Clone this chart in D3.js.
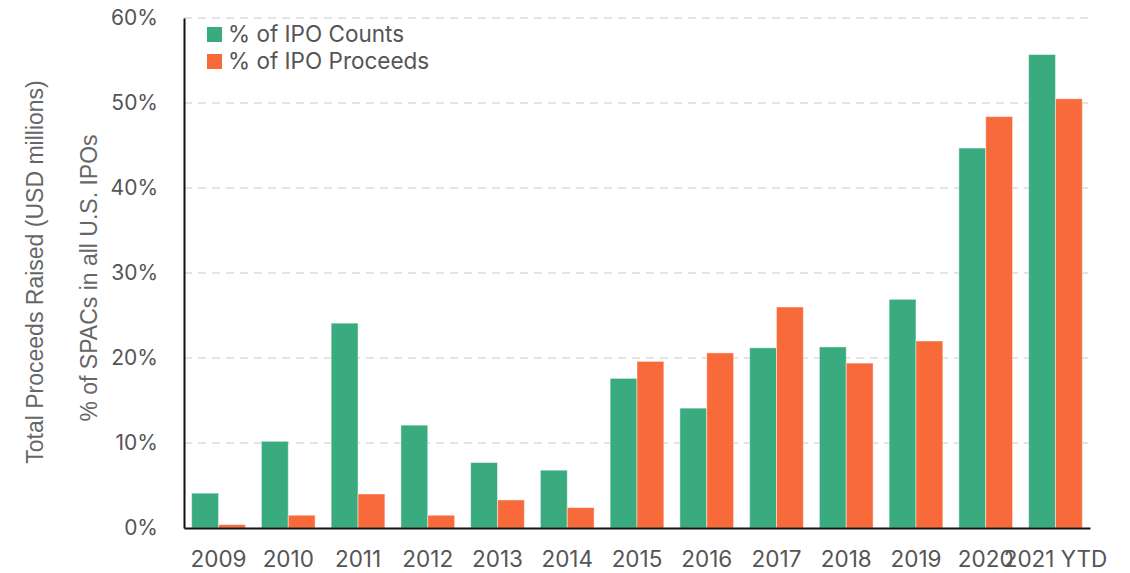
<!DOCTYPE html>
<html>
<head>
<meta charset="utf-8">
<script src="https://cdn.jsdelivr.net/npm/d3@7"></script>
<style>
  body { margin: 0; background: #fff; }
  svg { display: block; }
  .tick text { font-family: Inter, sans-serif; fill: #555; }
</style>
</head>
<body>
<div id="chart"></div>
<script>
var years = ['2009', '2010', '2011', '2012', '2013', '2014', '2015', '2016', '2017', '2018', '2019', '2020', '2021 YTD'];
var ipoCounts = [4.1, 10.2, 24.1, 12.1, 7.7, 6.8, 17.6, 14.1, 21.2, 21.3, 26.9, 44.7, 55.7];
var ipoProceeds = [0.4, 1.5, 4.0, 1.5, 3.3, 2.4, 19.6, 20.6, 26.0, 19.4, 22.0, 48.4, 50.5];
var yTicks = [0, 10, 20, 30, 40, 50, 60];
var seriesNames = ['% of IPO Counts', '% of IPO Proceeds'];
var colors = ['#3aab7e', '#f86a3a'];

var width = 1130, height = 573;
var margin = {left: 184, right: 40, top: 18, bottom: 45};

var svg = d3.select('#chart').append('svg')
    .attr('width', width)
    .attr('height', height);

var x = d3.scaleBand()
    .domain(years)
    .range([margin.left, width - margin.right])
    .paddingInner(0.23)
    .paddingOuter(0.11);

var x1 = d3.scaleBand()
    .domain([0, 1])
    .range([0, x.bandwidth()]);

var y = d3.scaleLinear()
    .domain([0, 60])
    .range([height - margin.bottom, margin.top]);

// gridlines
svg.append('g')
    .selectAll('line')
    .data(yTicks.slice(1))
    .enter().append('line')
    .attr('x1', margin.left)
    .attr('x2', width - margin.right)
    .attr('y1', function (d) { return y(d); })
    .attr('y2', function (d) { return y(d); })
    .attr('stroke', '#dcdcdc')
    .attr('stroke-width', 1.5)
    .attr('stroke-dasharray', '8,6');

// bars
var rows = years.map(function (yr, i) {
    return {year: yr, vals: [ipoCounts[i], ipoProceeds[i]]};
});

var groups = svg.append('g')
    .selectAll('g')
    .data(rows)
    .enter().append('g')
    .attr('transform', function (d) { return 'translate(' + x(d.year) + ',0)'; });

groups.selectAll('rect')
    .data(function (d) { return d.vals; })
    .enter().append('rect')
    .attr('x', function (d, i) { return x1(i); })
    .attr('y', function (d) { return y(d); })
    .attr('width', x1.bandwidth())
    .attr('height', function (d) { return y(0) - y(d); })
    .attr('fill', function (d, i) { return colors[i]; })
    .attr('stroke', 'rgba(255,255,255,0.45)')
    .attr('stroke-width', 1);

// axes
var yAxis = d3.axisLeft(y)
    .tickValues(yTicks)
    .tickFormat(function (d) { return d + '%'; })
    .tickSize(0)
    .tickPadding(26);

var yG = svg.append('g')
    .attr('transform', 'translate(' + margin.left + ',0)')
    .call(yAxis);
yG.select('.domain').attr('stroke', '#111').attr('stroke-width', 2);
yG.selectAll('.tick text').attr('font-size', 21);

var xAxis = d3.axisBottom(x).tickSize(0).tickPadding(23);
var xG = svg.append('g')
    .attr('transform', 'translate(0,' + y(0) + ')')
    .call(xAxis);
xG.select('.domain').attr('stroke', '#111').attr('stroke-width', 2);
xG.selectAll('.tick text').attr('font-size', 22.5);

// axis titles
svg.append('text')
    .attr('transform', 'translate(43,272) rotate(-90)')
    .attr('text-anchor', 'middle')
    .attr('font-family', 'Liberation Sans, Arial, sans-serif')
    .attr('font-size', 23)
    .attr('fill', '#666')
    .text('Total Proceeds Raised (USD millions)');

svg.append('text')
    .attr('transform', 'translate(97,278) rotate(-90)')
    .attr('text-anchor', 'middle')
    .attr('font-family', 'Liberation Sans, Arial, sans-serif')
    .attr('font-size', 23)
    .attr('fill', '#666')
    .text('% of SPACs in all U.S. IPOs');

// legend
var legend = svg.append('g')
    .selectAll('g')
    .data(seriesNames)
    .enter().append('g')
    .attr('transform', function (d, i) { return 'translate(207,' + (27 + i * 27) + ')'; });

legend.append('rect')
    .attr('width', 15)
    .attr('height', 15)
    .attr('fill', function (d, i) { return colors[i]; });

legend.append('text')
    .attr('x', 21)
    .attr('y', 15)
    .attr('font-family', 'Inter, sans-serif')
    .attr('font-size', 22.5)
    .attr('fill', '#555')
    .text(function (d) { return d; });
</script>
</body>
</html>
